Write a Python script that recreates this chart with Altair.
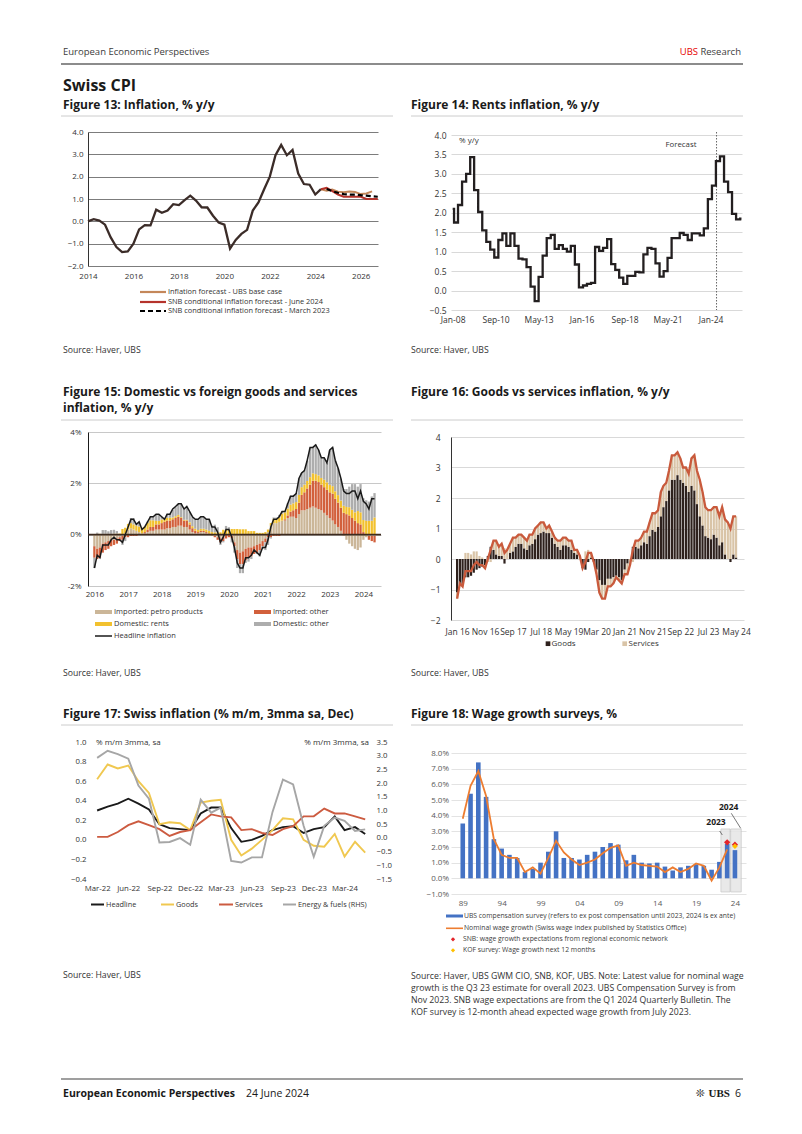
import altair as alt
import pandas as pd

FONT = "Open Sans"
DARK = "#1a1a1a"
TXT = "#333333"
DUMMY = pd.DataFrame({"k": [0]})

# ====================== DATA ======================
# Figure 13: Swiss CPI inflation, % y/y (quarterly) and forecasts
f13_hist_t = [2014.0 + 0.25 * i for i in range(42)]
f13_hist_v = [0.0, 0.1, 0.03, -0.15, -0.72, -1.15, -1.38, -1.35, -1.0, -0.36, -0.17, -0.18,
              0.52, 0.38, 0.48, 0.77, 0.73, 0.95, 1.15, 0.93, 0.63, 0.62, 0.25, -0.05,
              -0.15, -1.22, -0.83, -0.56, -0.38, 0.48, 0.85, 1.44, 2.0, 2.96, 3.42, 2.96,
              3.2, 2.14, 1.67, 1.64, 1.2, 1.44]
f13_ubs_t = [2024.25 + 0.25 * i for i in range(10)]
f13_ubs_v = [1.44, 1.37, 1.42, 1.33, 1.3, 1.34, 1.31, 1.22, 1.25, 1.34]
f13_snb24_t = [2024.25 + 0.25 * i for i in range(11)]
f13_snb24_v = [1.44, 1.5, 1.35, 1.2, 1.1, 1.1, 1.1, 1.1, 1.0, 1.0, 1.0]
f13_snb23_t = [2024.5 + 0.25 * i for i in range(10)]
f13_snb23_v = [1.45, 1.35, 1.28, 1.22, 1.2, 1.2, 1.17, 1.15, 1.12, 1.1]

# Figure 14: rents inflation, % y/y (quarterly steps)
f14_dates = ["2008-01"] + [f"{y}-{m:02d}" for y in range(2008, 2026) for m in (2, 5, 8, 11)] + ["2025-12"]
f14_vals = [2.1,
            1.75, 2.2, 2.8, 3.0,
            3.43, 2.58, 2.02, 1.55,
            1.25, 1.05, 0.85, 1.3,
            1.47, 1.15, 1.47, 1.15,
            0.82, 0.8, 0.6, 0.1,
            -0.27, 0.35, 0.9, 1.35,
            1.43, 1.07, 1.17, 1.07,
            1.0, 1.15, 0.67, 0.08,
            0.13, 0.17, 0.2, 1.12,
            1.02, 1.1, 1.32, 0.68,
            0.53, 0.33, 0.17, 0.38,
            0.38, 0.48, 0.47, 0.93,
            1.1, 1.07, 0.7, 0.36,
            0.5, 0.84, 1.35, 1.35,
            1.48, 1.43, 1.3, 1.47,
            1.47, 1.42, 1.6, 2.35,
            2.7, 3.33, 3.45, 2.8,
            2.53, 1.97, 1.83, 1.85,
            1.85]

# Figures 15/16: monthly, Jan 2016 - May 2024
headline = [-1.3, -0.8, -0.9, -0.4, -0.4, -0.4, -0.2, -0.1, -0.2, -0.2, -0.3, 0.0,
            0.3, 0.6, 0.6, 0.4, 0.5, 0.2, 0.3, 0.5, 0.7, 0.7, 0.8, 0.8,
            0.7, 0.6, 0.8, 0.8, 1.0, 1.1, 1.2, 1.2, 1.0, 1.1, 0.9, 0.7,
            0.6, 0.6, 0.7, 0.7, 0.6, 0.6, 0.3, 0.3, 0.1, -0.3, -0.1, 0.2,
            0.2, -0.1, -0.5, -1.1, -1.3, -1.3, -0.9, -0.9, -0.8, -0.6, -0.7, -0.8,
            -0.5, -0.5, -0.2, 0.3, 0.6, 0.6, 0.7, 0.9, 0.9, 1.2, 1.5, 1.5,
            1.6, 2.2, 2.4, 2.5, 2.9, 3.4, 3.4, 3.5, 3.3, 3.0, 3.0, 2.8,
            3.3, 3.4, 2.9, 2.6, 2.2, 1.7, 1.6, 1.6, 1.7, 1.7, 1.4, 1.7,
            1.3, 1.2, 1.0, 1.4, 1.4]
imp_petro = [-0.45, -0.55, -0.5, -0.35, -0.3, -0.25, -0.2, -0.2, -0.15, -0.1, -0.05, 0.05,
             0.2, 0.25, 0.2, 0.15, 0.1, 0.05, 0.05, 0.1, 0.15, 0.15, 0.2, 0.2,
             0.2, 0.2, 0.25, 0.25, 0.3, 0.3, 0.35, 0.35, 0.3, 0.3, 0.2, 0.1,
             0.05, 0.05, 0.1, 0.1, 0.05, 0.0, -0.05, -0.05, -0.1, -0.15, -0.1, 0.0,
             0.0, -0.05, -0.3, -0.6, -0.7, -0.65, -0.55, -0.5, -0.5, -0.45, -0.4, -0.35,
             -0.25, -0.15, 0.1, 0.35, 0.45, 0.45, 0.5, 0.55, 0.55, 0.65, 0.7, 0.7,
             0.65, 0.8, 0.95, 0.95, 1.0, 1.05, 1.1, 1.05, 1.0, 0.95, 0.85, 0.75,
             0.65, 0.55, 0.4, 0.3, 0.15, -0.05, -0.2, -0.35, -0.45, -0.55, -0.6, -0.5,
             -0.2, -0.1, -0.05, -0.05, -0.05]
imp_other = [-0.45, -0.4, -0.4, -0.35, -0.3, -0.3, -0.25, -0.2, -0.2, -0.15, -0.15, -0.1,
             -0.1, -0.05, -0.05, -0.05, 0.0, 0.0, 0.05, 0.1, 0.15, 0.15, 0.2, 0.2,
             0.25, 0.3, 0.3, 0.3, 0.3, 0.35, 0.35, 0.3, 0.25, 0.25, 0.2, 0.15,
             0.1, 0.05, 0.05, 0.05, 0.05, 0.05, 0.0, -0.05, -0.1, -0.15, -0.15, -0.15,
             -0.1, -0.1, -0.15, -0.35, -0.45, -0.5, -0.45, -0.4, -0.35, -0.3, -0.3, -0.25,
             -0.2, -0.15, -0.1, -0.1, -0.05, -0.05, -0.05, 0.0, 0.05, 0.1, 0.2, 0.25,
             0.35, 0.45, 0.6, 0.7, 0.8, 0.9, 1.0, 1.05, 1.05, 1.0, 1.0, 1.0,
             1.0, 1.05, 1.0, 0.95, 0.9, 0.85, 0.8, 0.75, 0.65, 0.55, 0.45, 0.4,
             0.1, 0.0, -0.15, -0.2, -0.25]
dom_rents = [0.02, 0.03, 0.03, 0.03, 0.03, 0.03, 0.03, 0.04, 0.04, 0.04, 0.22, 0.22,
             0.22, 0.2, 0.2, 0.2, 0.22, 0.22, 0.22, 0.26, 0.26, 0.26, 0.14, 0.14,
             0.14, 0.11, 0.11, 0.11, 0.07, 0.07, 0.07, 0.03, 0.03, 0.03, 0.08, 0.08,
             0.08, 0.08, 0.08, 0.08, 0.1, 0.1, 0.1, 0.09, 0.09, 0.09, 0.19, 0.19,
             0.19, 0.22, 0.22, 0.22, 0.21, 0.21, 0.21, 0.14, 0.14, 0.14, 0.07, 0.07,
             0.07, 0.1, 0.1, 0.1, 0.17, 0.17, 0.17, 0.27, 0.27, 0.27, 0.27, 0.27,
             0.27, 0.3, 0.3, 0.3, 0.29, 0.29, 0.29, 0.26, 0.26, 0.26, 0.29, 0.29,
             0.29, 0.29, 0.29, 0.29, 0.28, 0.28, 0.28, 0.32, 0.32, 0.32, 0.47, 0.47,
             0.47, 0.54, 0.54, 0.54, 0.67]
dom_other = [-0.4, 0.05, 0.0, 0.15, 0.15, 0.1, 0.15, 0.15, 0.1, 0.0, -0.2, -0.15,
             0.0, 0.2, 0.25, 0.1, 0.15, 0.0, 0.0, 0.05, 0.15, 0.15, 0.25, 0.25,
             0.1, 0.05, 0.15, 0.15, 0.3, 0.35, 0.4, 0.5, 0.4, 0.5, 0.4, 0.35,
             0.35, 0.4, 0.45, 0.45, 0.4, 0.45, 0.25, 0.3, 0.2, -0.1, -0.05, 0.15,
             0.1, -0.15, -0.25, -0.35, -0.35, -0.35, -0.1, -0.15, -0.1, 0.0, -0.05, -0.25,
             -0.1, -0.3, -0.3, -0.05, 0.05, 0.05, 0.1, 0.1, 0.05, 0.2, 0.35, 0.3,
             0.35, 0.65, 0.55, 0.55, 0.8, 1.15, 1.0, 1.15, 1.0, 0.8, 0.85, 0.75,
             1.35, 1.5, 1.2, 1.05, 0.85, 0.65, 0.7, 0.8, 1.0, 1.1, 0.95, 1.1,
             0.85, 0.8, 0.75, 0.95, 0.95]
goods = [-1.1, -0.8, -0.85, -0.6, -0.6, -0.55, -0.45, -0.35, -0.3, -0.25, -0.2, 0.1,
         0.4, 0.3, 0.15, 0.1, 0.1, -0.15, 0.0, 0.2, 0.25, 0.4, 0.5, 0.5,
         0.35, 0.3, 0.45, 0.5, 0.65, 0.8, 0.85, 0.9, 0.85, 0.85, 0.7, 0.5,
         0.4, 0.3, 0.45, 0.45, 0.4, 0.3, 0.2, 0.15, 0.0, -0.3, -0.35, -0.1,
         0.05, -0.1, -0.35, -0.7, -0.85, -0.85, -0.65, -0.65, -0.6, -0.55, -0.6, -0.7,
         -0.35, -0.15, 0.0, 0.4, 0.4, 0.35, 0.45, 0.55, 0.5, 0.75, 0.95, 0.9,
         1.05, 1.4, 1.7, 1.9, 2.25, 2.6, 2.6, 2.75, 2.6, 2.5, 2.4, 2.2,
         2.4, 2.25, 1.8, 1.4, 1.1, 0.75, 0.7, 0.65, 0.8, 0.7, 0.45, 0.55,
         0.15, 0.0, -0.1, 0.15, 0.05]
services = [-0.2, 0.0, -0.05, 0.2, 0.2, 0.15, 0.25, 0.25, 0.1, 0.05, -0.1, -0.1,
            -0.1, 0.3, 0.45, 0.3, 0.4, 0.35, 0.3, 0.3, 0.45, 0.3, 0.3, 0.3,
            0.35, 0.3, 0.35, 0.3, 0.35, 0.3, 0.35, 0.3, 0.15, 0.25, 0.2, 0.2,
            0.2, 0.3, 0.25, 0.25, 0.2, 0.3, 0.1, 0.15, 0.1, 0.0, 0.25, 0.3,
            0.15, 0.0, -0.15, -0.4, -0.45, -0.45, -0.25, -0.25, -0.2, -0.05, -0.1, -0.1,
            -0.15, -0.35, -0.2, -0.1, 0.2, 0.25, 0.25, 0.35, 0.4, 0.45, 0.55, 0.6,
            0.55, 0.8, 0.7, 0.6, 0.65, 0.8, 0.8, 0.75, 0.7, 0.5, 0.6, 0.6,
            0.9, 1.15, 1.1, 1.2, 1.1, 0.95, 0.9, 0.95, 0.9, 1.0, 0.95, 1.15,
            1.15, 1.2, 1.1, 1.25, 1.35]

# Figure 17: % m/m 3mma sa, Mar 2022 - May 2024
f17_headline = [0.30, 0.34, 0.37, 0.42, 0.37, 0.31, 0.16, 0.12, 0.11, 0.10, 0.27, 0.33, 0.33,
                0.12, -0.02, 0.0, 0.04, 0.10, 0.13, 0.14, 0.07, 0.11, 0.13, 0.24, 0.10, 0.13, 0.06]
f17_goods = [0.62, 0.77, 0.73, 0.76, 0.60, 0.48, 0.16, 0.18, 0.17, 0.10, 0.38, 0.40, 0.41,
             0.0, -0.16, -0.09, 0.0, 0.10, 0.22, 0.21, 0.0, -0.06, -0.07, 0.06, -0.17, -0.02, -0.13]
f17_services = [0.03, 0.03, 0.08, 0.15, 0.19, 0.15, 0.11, 0.04, 0.08, 0.10, 0.18, 0.26, 0.24,
                0.23, 0.10, 0.11, 0.07, 0.05, 0.11, 0.14, 0.24, 0.24, 0.32, 0.27, 0.27, 0.24, 0.21]
f17_energy = [2.92, 3.18, 3.06, 2.89, 1.91, 1.43, -0.17, -0.15, -0.01, -0.25, 1.40, 0.92, 1.10,
              -0.84, -0.90, -0.71, -0.71, 0.94, 2.13, 1.95, 0.44, -0.69, 0.44, 0.74, 0.62, 0.25, 0.31]

# Figure 18: wage growth surveys, %
f18_years = list(range(1989, 2025))
f18_ubs = [3.5, 5.4, 7.4, 5.2, 2.5, 1.9, 1.5, 1.3, 0.4, 0.6, 1.0, 1.7, 3.0, 1.3, 1.3, 1.2, 1.5, 1.7,
           2.0, 2.25, 2.15, 1.15, 1.5, 1.0, 0.95, 1.0, 0.75, 0.5, 0.7, 0.8, 0.9, 0.8, 0.55, 1.05, 2.2, 1.8]
f18_wage = [3.8, 5.9, 6.85, 5.25, 2.5, 1.5, 1.3, 1.3, 0.4, 0.7, 0.3, 1.3, 2.4, 1.65, 1.2, 0.85, 1.0,
            1.2, 1.6, 1.95, 2.1, 0.8, 1.0, 0.85, 0.8, 0.75, 0.4, 0.7, 0.4, 0.6, 0.95, 0.8, -0.15, 0.7, 1.85]
f18_snb_years = [2023, 2024]
f18_snb = [2.3, 2.15]
f18_kof_years = [2024]
f18_kof = [2.05]

# ====================== HELPERS ======================
def T(x, y, s, size=8.0, color=TXT, weight="normal", align="left", baseline="middle", font=FONT):
    return alt.Chart(DUMMY).mark_text(text=s, fontSize=size, color=color, fontWeight=weight,
                                      align=align, baseline=baseline, font=font).encode(
        x=alt.value(x), y=alt.value(y))


def L(x1, y1, x2, y2, color=TXT, width=1.0, dash=None):
    kw = dict(color=color, strokeWidth=width)
    if dash is not None:
        kw["strokeDash"] = dash
    return alt.Chart(DUMMY).mark_rule(**kw).encode(
        x=alt.value(x1), y=alt.value(y1), x2=alt.value(x2), y2=alt.value(y2))


def B(x1, y1, x2, y2, color):
    return alt.Chart(DUMMY).mark_rect(color=color).encode(
        x=alt.value(x1), y=alt.value(y1), x2=alt.value(x2), y2=alt.value(y2))


def P(x, y, color, shape="square", size=25):
    return alt.Chart(DUMMY).mark_point(shape=shape, filled=True, size=size, color=color,
                                       opacity=1).encode(x=alt.value(x), y=alt.value(y))


def SP(w, h):
    return alt.Chart(DUMMY).mark_point(opacity=0, size=1).encode(
        x=alt.value(0), y=alt.value(0)).properties(width=w, height=h)


def AX(**kw):
    base = dict(labelFontSize=8, labelColor=TXT, ticks=False, domain=False, grid=False,
                labelFont=FONT, labelOverlap=False, labelBound=False)
    base.update(kw)
    return alt.Axis(**base)


def D(y, m, d=1):
    return alt.DateTime(year=y, month=m, date=d)


# ====================== FIGURE 13 ======================
df13 = pd.concat([
    pd.DataFrame({"t": f13_hist_t, "v": f13_hist_v, "s": "hist"}),
    pd.DataFrame({"t": f13_ubs_t, "v": f13_ubs_v, "s": "ubs"}),
    pd.DataFrame({"t": f13_snb24_t, "v": f13_snb24_v, "s": "snb24"}),
    pd.DataFrame({"t": f13_snb23_t, "v": f13_snb23_v, "s": "snb23"}),
])
x13 = alt.X("t:Q", title=None, scale=alt.Scale(domain=[2014, 2026.76], nice=False, zero=False),
            axis=AX(values=list(range(2014, 2027, 2)), format="d", labelFlush=False, labelPadding=6))
y13 = alt.Y("v:Q", title=None, scale=alt.Scale(domain=[-2, 4], nice=False, zero=False),
            axis=AX(values=[-2, -1, 0, 1, 2, 3, 4], format=".1f", labelPadding=5, grid=True,
                    gridColor="#5a5a5a", gridWidth=0.8, domain=True, domainColor="#333333"))
base13 = alt.Chart(df13).encode(x=x13, y=y13)
C13_HIST, C13_UBS, C13_SNB24 = "#3b2c28", "#c4875a", "#b5332b"
LEG13 = 7.4
fig13 = alt.layer(
    base13.transform_filter(alt.datum.s == "hist").mark_line(color=C13_HIST, strokeWidth=2.3),
    base13.transform_filter(alt.datum.s == "ubs").mark_line(color=C13_UBS, strokeWidth=2.0),
    base13.transform_filter(alt.datum.s == "snb24").mark_line(color=C13_SNB24, strokeWidth=2.0),
    base13.transform_filter(alt.datum.s == "snb23").mark_line(color="#000000", strokeWidth=2.2,
                                                              strokeDash=[5, 3]),
    L(52, 160, 78, 160, C13_UBS, 2.2),
    T(80, 160, "Inflation forecast - UBS base case", LEG13),
    L(52, 170, 78, 170, C13_SNB24, 2.2),
    T(80, 170, "SNB conditional inflation forecast - June 2024", LEG13),
    L(52, 179, 78, 179, "#000000", 2.2, [5, 3]),
    T(80, 179, "SNB conditional inflation forecast - March 2023", LEG13),
).properties(width=290, height=134)

# ====================== FIGURE 14 (top offset 3) ======================
DY14, H14 = 3, 175
df14 = pd.DataFrame({"d": pd.to_datetime(f14_dates), "v": f14_vals})
x14 = alt.X("d:T", title=None,
            scale=alt.Scale(domain=[D(2007, 11, 24), D(2025, 12, 13)]),
            axis=AX(values=[D(2008, 1), D(2010, 9), D(2013, 5), D(2016, 1), D(2018, 9), D(2021, 5), D(2024, 1)],
                    format="%b-%y", labelFlush=False, labelPadding=5, labelFontSize=8.5))
y14 = alt.Y("v:Q", title=None,
            scale=alt.Scale(domain=[-0.5, 4], nice=False, zero=False, range=[H14 + DY14, DY14]),
            axis=AX(values=[-0.5, 0, 0.5, 1, 1.5, 2, 2.5, 3, 3.5, 4], format=".1f", labelPadding=5,
                    labelFontSize=8.5, grid=True, gridColor="#d9d9d9", gridWidth=1))
fig14 = alt.layer(
    alt.Chart(pd.DataFrame({"d": [pd.Timestamp("2024-05-15")]})).mark_rule(
        color="#666666", strokeWidth=1, strokeDash=[1.5, 1.5]).encode(x=x14),
    alt.Chart(df14).mark_line(color="#231f20", strokeWidth=2.3, interpolate="step-after").encode(x=x14, y=y14),
    T(8, 6 + DY14, "% y/y", 8),
    T(230, 10 + DY14, "Forecast", 7.8, align="center"),
).properties(width=291, height=H14 + DY14)

# ====================== FIGURE 15 ======================
months = pd.date_range("2016-01-01", periods=101, freq="MS")
df15 = pd.concat([
    pd.DataFrame({"d": months, "v": imp_petro, "s": "petro", "o": 1}),
    pd.DataFrame({"d": months, "v": imp_other, "s": "impother", "o": 2}),
    pd.DataFrame({"d": months, "v": dom_rents, "s": "rents", "o": 3}),
    pd.DataFrame({"d": months, "v": dom_other, "s": "domother", "o": 4}),
])
dfh = pd.DataFrame({"d": months, "v": headline})
C_PETRO, C_IMP, C_RENT, C_DOM = "#cbb698", "#d2603c", "#f2c12e", "#adadad"
x15 = alt.X("d:T", title=None, scale=alt.Scale(domain=[D(2015, 12, 17), D(2024, 5, 17)]),
            axis=AX(values=[D(y, 1) for y in range(2016, 2025)], format="%Y", labelFlush=3,
                    labelPadding=4, labelFontSize=8))
y15 = alt.Y("v:Q", title=None, scale=alt.Scale(domain=[-2, 4], nice=False, zero=False),
            axis=AX(values=[-2, -1, 0, 1, 2, 3, 4], labelExpr="datum.value + '%'", labelPadding=7,
                    labelFontSize=8, grid=True, gridColor="#c8c8c8", domain=True, domainColor=DARK))
LEG15 = 7.5
fig15 = alt.layer(
    alt.Chart(df15).mark_bar(width=2.3).encode(
        x=x15, y=y15,
        color=alt.Color("s:N", legend=None,
                        scale=alt.Scale(domain=["petro", "impother", "rents", "domother"],
                                        range=[C_PETRO, C_IMP, C_RENT, C_DOM])),
        order=alt.Order("o:Q")),
    alt.Chart(DUMMY).mark_rule(color="#3d2b1f", strokeWidth=1.6).encode(y=alt.datum(0)),
    alt.Chart(dfh).mark_line(color=DARK, strokeWidth=1.5).encode(x=x15, y=y15),
    B(7, 178, 24, 182, C_PETRO), T(26, 180, "Imported: petro products", LEG15),
    B(166, 178, 183, 182, C_IMP), T(185, 180, "Imported: other", LEG15),
    B(7, 190, 24, 194, C_RENT), T(26, 192, "Domestic: rents", LEG15),
    B(166, 190, 183, 194, C_DOM), T(185, 192, "Domestic: other", LEG15),
    L(7, 204, 24, 204, DARK, 1.5), T(26, 204, "Headline inflation", LEG15),
).properties(width=293, height=154)

# ====================== FIGURE 16 (top offset 5) ======================
DY16, H16 = 5, 183
df16 = pd.concat([
    pd.DataFrame({"d": months, "v": goods, "s": "goods", "o": 1}),
    pd.DataFrame({"d": months, "v": services, "s": "services", "o": 2}),
])
C_GOODS, C_SERV, C_LINE16 = "#2e211d", "#d9c4a7", "#c95a3c"
x16 = alt.X("d:T", title=None, scale=alt.Scale(domain=[D(2015, 12, 20), D(2024, 6, 2)]),
            axis=AX(values=[D(2016, 1), D(2016, 11), D(2017, 9), D(2018, 7), D(2019, 5), D(2020, 3),
                            D(2021, 1), D(2021, 11), D(2022, 9), D(2023, 7), D(2024, 5)],
                    format="%b %y", labelFlush=False, labelPadding=7, labelFontSize=8.5))
y16 = alt.Y("v:Q", title=None,
            scale=alt.Scale(domain=[-2, 4], nice=False, zero=False, range=[H16 + DY16, DY16]),
            axis=AX(values=[-2, -1, 0, 1, 2, 3, 4], format="d", labelPadding=11, labelFontSize=8.5,
                    grid=True, gridColor="#d9d9d9", domain=True, domainColor="#333333"))
fig16 = alt.layer(
    alt.Chart(df16).mark_bar(width=2.2).encode(
        x=x16, y=y16,
        color=alt.Color("s:N", legend=None,
                        scale=alt.Scale(domain=["goods", "services"], range=[C_GOODS, C_SERV])),
        order=alt.Order("o:Q")),
    alt.Chart(dfh).mark_line(color=C_LINE16, strokeWidth=2.3).encode(x=x16, y=y16),
    P(97, 206.7 + DY16, C_GOODS, "square", 22), T(100.5, 206.7 + DY16, "Goods", 8),
    P(173.7, 206.7 + DY16, C_SERV, "square", 22), T(177.5, 206.7 + DY16, "Services", 8),
).properties(width=293, height=H16 + DY16)

# ====================== FIGURE 17 ======================
m17 = pd.date_range("2022-03-01", periods=27, freq="MS")
df17 = pd.concat([
    pd.DataFrame({"d": m17, "v": f17_headline, "s": "Headline"}),
    pd.DataFrame({"d": m17, "v": f17_goods, "s": "Goods"}),
    pd.DataFrame({"d": m17, "v": f17_services, "s": "Services"}),
])
df17e = pd.DataFrame({"d": m17, "e": f17_energy})
C17_H, C17_G, C17_S, C17_E = DARK, "#f0c850", "#cc5b40", "#a6a6a6"
x17 = alt.X("d:T", title=None, scale=alt.Scale(domain=[D(2022, 2, 2), D(2024, 5, 27)]),
            axis=AX(values=[D(2022, 3), D(2022, 6), D(2022, 9), D(2022, 12), D(2023, 3), D(2023, 6),
                            D(2023, 9), D(2023, 12), D(2024, 3)],
                    format="%b-%y", labelFlush=False, labelPadding=5, labelFontSize=7.8))
left17 = alt.Chart(df17).mark_line(strokeWidth=1.9).encode(
    x=x17,
    y=alt.Y("v:Q", title=None, scale=alt.Scale(domain=[-0.4, 1.0], nice=False, zero=False),
            axis=AX(values=[-0.4, -0.2, 0.0, 0.2, 0.4, 0.6, 0.8, 1.0], format=".1f", labelPadding=2,
                    labelFontSize=7.8)),
    color=alt.Color("s:N", legend=None,
                    scale=alt.Scale(domain=["Headline", "Goods", "Services"], range=[C17_H, C17_G, C17_S])))
right17 = alt.Chart(df17e).mark_line(color=C17_E, strokeWidth=1.9).encode(
    x=x17,
    y=alt.Y("e:Q", title=None, scale=alt.Scale(domain=[-1.5, 3.5], nice=False, zero=False),
            axis=AX(orient="right", values=[-1.5, -1.0, -0.5, 0.0, 0.5, 1.0, 1.5, 2.0, 2.5, 3.0, 3.5],
                    format=".1f", labelPadding=2, labelFontSize=7.8)))
LEG17 = 7.3
fig17 = alt.layer(
    left17, right17,
    T(8, 1, "% m/m 3mma, sa", 8),
    T(281, 1, "% m/m 3mma, sa", 8, align="right"),
    L(3, 162.5, 16, 162.5, C17_H, 2), T(18, 162.5, "Headline", LEG17),
    L(73, 162.5, 86, 162.5, C17_G, 2), T(88, 162.5, "Goods", LEG17),
    L(131, 162.5, 145, 162.5, C17_S, 2), T(147, 162.5, "Services", LEG17),
    L(195, 162.5, 208, 162.5, C17_E, 2), T(210, 162.5, "Energy & fuels (RHS)", LEG17),
).resolve_scale(y="independent").properties(width=286, height=137)

# ====================== FIGURE 18 (top offset 11) ======================
DY18, H18 = 11, 141
df18b = pd.DataFrame({"yr": f18_years, "v": f18_ubs})
df18l = pd.DataFrame({"yr": f18_years[:-1], "v": f18_wage})
df18s = pd.DataFrame({"yr": f18_snb_years, "v": f18_snb})
df18k = pd.DataFrame({"yr": f18_kof_years, "v": f18_kof})
df18r = pd.DataFrame({"yr": [2022.2, 2023.45], "yr2": [2023.37, 2024.81], "v": [-0.87, -0.87], "v2": [3.15, 3.15]})
G18 = "#595959"
x18 = alt.X("yr:Q", title=None, scale=alt.Scale(domain=[1988.13, 2024.78], nice=False, zero=False),
            axis=AX(values=list(range(1989, 2025, 5)), labelExpr="format(datum.value % 100, '02d')",
                    labelPadding=5, labelFontSize=8, labelColor=G18, labelFlush=False))
y18 = alt.Y("v:Q", title=None,
            scale=alt.Scale(domain=[-1, 8], nice=False, zero=False, range=[H18 + DY18, DY18]),
            axis=AX(values=list(range(-1, 9)), labelExpr="format(datum.value, '.1f') + '%'",
                    labelPadding=2.5, labelFontSize=8, labelColor=G18, grid=True, gridColor="#e3e3e3"))
C18_B, C18_L, C18_SNB, C18_KOF = "#4472c4", "#ed7d31", "#e3242b", "#ffc000"
LEG18 = 6.8
fig18 = alt.layer(
    alt.Chart(df18r).mark_rect(fill="#e6e6e6", stroke="#c4c4c4", strokeWidth=0.8, opacity=0.85).encode(
        x=x18, x2=alt.X2("yr2"), y=y18, y2=alt.Y2("v2")),
    alt.Chart(df18b).mark_bar(width=4.6, color=C18_B).encode(x=x18, y=y18),
    alt.Chart(df18l).mark_line(color=C18_L, strokeWidth=1.8).encode(x=x18, y=y18),
    alt.Chart(df18s).mark_point(shape="diamond", filled=True, size=40, color=C18_SNB, opacity=1).encode(x=x18, y=y18),
    alt.Chart(df18k).mark_point(shape="diamond", filled=True, size=30, color=C18_KOF, opacity=1).encode(x=x18, y=y18),
    T(265, 69 + DY18, "2023", 8.5, DARK, "bold", align="center"),
    T(277.7, 54 + DY18, "2024", 8.5, DARK, "bold", align="center"),
    L(268.7, 78 + DY18, 271.3, 82 + DY18, "#555555", 0.8),
    L(280.3, 60.3 + DY18, 289.7, 75.3 + DY18, "#555555", 0.8),
    B(-5, 161.5 + DY18, 12, 164.5 + DY18, C18_B),
    T(13, 163 + DY18, "UBS compensation survey (refers to ex post compensation until 2023, 2024 is ex ante)", LEG18, "#404040"),
    L(-5, 175.3 + DY18, 12, 175.3 + DY18, C18_L, 1.6),
    T(13, 175.3 + DY18, "Nominal wage growth  (Swiss wage index published by Statistics Office)", LEG18, "#404040"),
    P(2, 186.3 + DY18, C18_SNB, "diamond", 18),
    T(12, 186.3 + DY18, "SNB: wage growth expectations from regional economic network", LEG18, "#404040"),
    P(2, 197.3 + DY18, C18_KOF, "diamond", 18),
    T(12, 197.3 + DY18, "KOF survey: Wage growth next 12 months", LEG18, "#404040"),
).properties(width=295, height=H18 + DY18)

# ====================== PAGE TEXT (root coords = page - 8) ======================
SRC18 = ["Source: Haver, UBS GWM CIO, SNB, KOF, UBS. Note: Latest value for nominal wage",
         "growth is the Q3 23 estimate for overall 2023. UBS Compensation Survey is from",
         "Nov 2023. SNB wage expectations are from the Q1 2024 Quarterly Bulletin. The",
         "KOF survey is 12-month ahead expected wage growth from July 2023."]
SRC = 8.7
overlay = alt.layer(
    T(54, 43, "European Economic Perspectives", 9.5, "#3c3c3c"),
    T(732, 43, "Research", 9.5, "#3c3c3c", align="right"),
    T(689, 43, "UBS", 9.5, "#e60000", align="right"),
    L(52, 55, 734, 55, "#8c8c8c", 2),
    T(54, 77, "Swiss CPI", 16, DARK, "bold"),
    T(54, 96, "Figure 13: Inflation, % y/y", 12, DARK, "bold"),
    T(402, 96, "Figure 14: Rents inflation, % y/y", 12, DARK, "bold"),
    L(52, 107, 384, 107, "#cccccc", 1), L(402, 107, 734, 107, "#cccccc", 1),
    T(54, 341, "Source: Haver, UBS", SRC), T(402, 341, "Source: Haver, UBS", SRC),
    T(54, 383, "Figure 15: Domestic vs foreign goods and services", 12, DARK, "bold"),
    T(54, 399, "inflation, % y/y", 12, DARK, "bold"),
    T(402, 383, "Figure 16: Goods vs services inflation, % y/y", 12, DARK, "bold"),
    L(52, 411, 384, 411, "#cccccc", 1), L(402, 411, 734, 411, "#cccccc", 1),
    T(54, 664, "Source: Haver, UBS", SRC), T(402, 664, "Source: Haver, UBS", SRC),
    T(54, 705, "Figure 17: Swiss inflation (% m/m, 3mma sa, Dec)", 12, DARK, "bold"),
    T(402, 705, "Figure 18: Wage growth surveys, %", 12, DARK, "bold"),
    L(52, 716, 384, 716, "#cccccc", 1), L(402, 716, 734, 716, "#cccccc", 1),
    T(54, 966, "Source: Haver, UBS", SRC),
    T(402, 967, SRC18[0], SRC), T(402, 979, SRC18[1], SRC),
    T(402, 991, SRC18[2], SRC), T(402, 1003, SRC18[3], SRC),
    L(52, 1070, 734, 1070, "#404040", 1.2),
    T(54, 1085, "European Economic Perspectives", 10.5, DARK, "bold"),
    T(237, 1085, "24 June 2024", 10.5, DARK),
    T(732, 1085, "6", 10.5, DARK, align="right"),
    T(721, 1085, "UBS", 11, DARK, "bold", align="right", font="Liberation Serif"),
    T(696, 1085, "\u274a", 11, DARK, align="right", font="DejaVu Sans"),
).properties(width=1, height=1)

# ====================== LAYOUT (grid rows; x flows per row) ======================
cells = [
    overlay, SP(1, 123), SP(1, 1), SP(1, 123),
    SP(76, 1), fig13, SP(64, 1), fig14,
    SP(1, 1), SP(1, 122), SP(1, 1), SP(1, 122),
    SP(79, 1), fig15, SP(53, 1), fig16,
    SP(1, 1), SP(1, 122), SP(1, 1), SP(1, 122),
    SP(74, 1), fig17, SP(70, 1), fig18,
]
chart = alt.concat(*cells, columns=4, spacing=0, bounds="flush", align="none").resolve_scale(
    color="independent"
).properties(padding=0).configure(font=FONT).configure_view(strokeWidth=0)

chart.save("out.html", embed_options={"renderer": "svg", "actions": False})
